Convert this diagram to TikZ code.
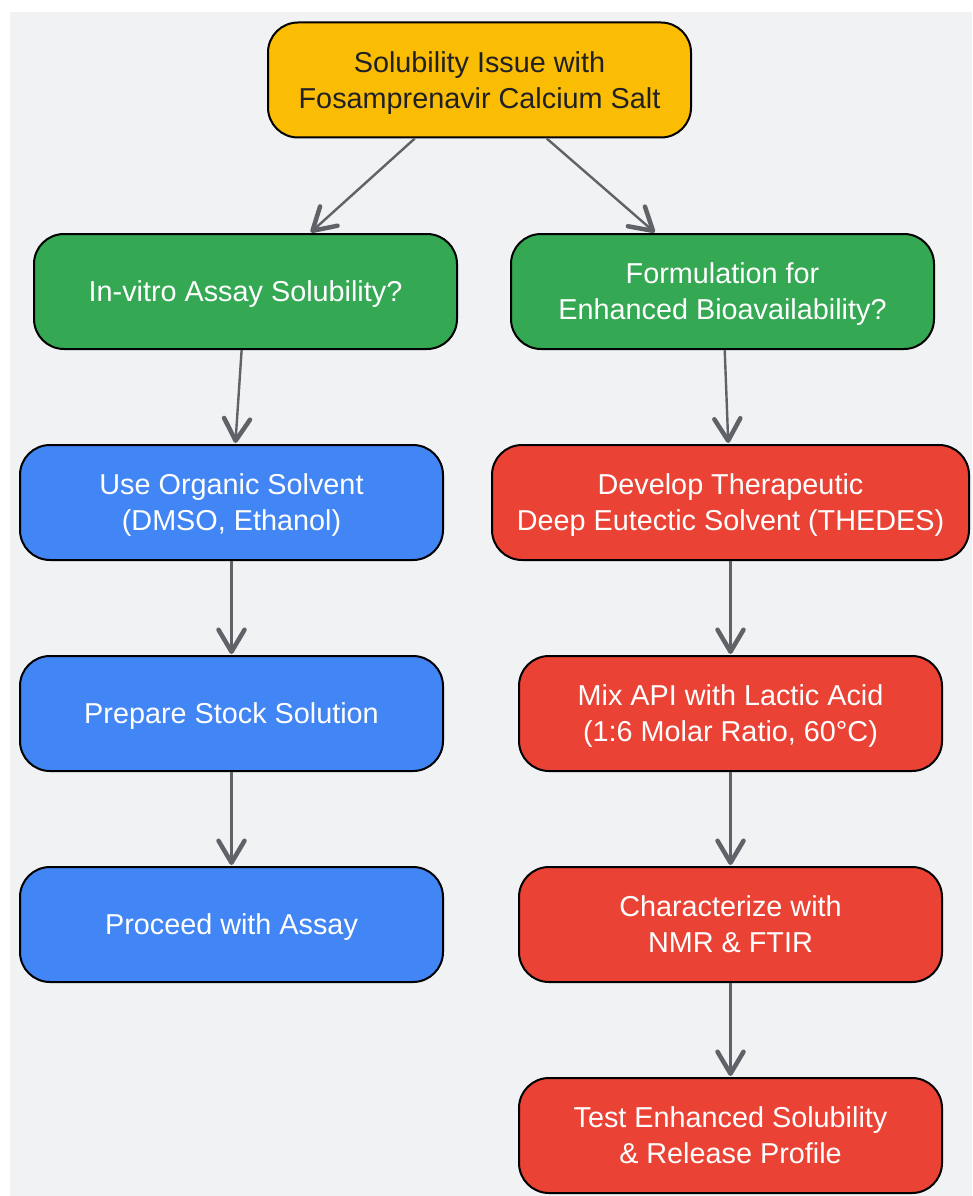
\documentclass[tikz,border=0pt]{standalone}
\usepackage{fontspec}
\setmainfont{Liberation Sans}
\usetikzlibrary{arrows.meta}
\definecolor{bgcol}{HTML}{F1F2F4}
\definecolor{yelcol}{HTML}{FBBC04}
\definecolor{grncol}{HTML}{34A853}
\definecolor{blucol}{HTML}{4285F4}
\definecolor{redcol}{HTML}{EA4335}
\definecolor{arrcol}{HTML}{5F6368}
\definecolor{txtcol}{HTML}{202124}
\tikzset{
  stepbox/.style={draw=black, line width=2pt, rounded corners=30pt,
    minimum width=423pt, minimum height=115pt, align=center,
    text=white, font=\fontsize{28.8}{36}\selectfont, text depth=0pt},
  flow/.style={draw=arrcol, line width=2.4pt,
    -{Straight Barb[length=22pt,width=26pt,line width=4.5pt,round]}, shorten >=1pt}
}
\begin{document}
\begin{tikzpicture}[x=1pt,y=-1pt]
\useasboundingbox (0,0) rectangle (972,1196);
\fill [bgcol] (10,12) rectangle (972,1196);
%Nodes
\node [stepbox, fill=yelcol, text=txtcol] (issue) at (479.5,80) {Solubility Issue with\\Fosamprenavir Calcium Salt};
\node [stepbox, fill=grncol] (assay) at (245.5,291.5) {In-vitro Assay Solubility?};
\node [stepbox, fill=grncol] (formul) at (722.5,291.5) {Formulation for\\Enhanced Bioavailability?};
\node [stepbox, fill=blucol] (solvent) at (231.5,502.5) {Use Organic Solvent\\(DMSO, Ethanol)};
\node [stepbox, fill=blucol] (stock) at (231.5,713.5) {Prepare Stock Solution};
\node [stepbox, fill=blucol] (proceed) at (231.5,924.5) {Proceed with Assay};
\node [stepbox, fill=redcol, minimum width=477pt] (thedes) at (730.5,502.5) {Develop Therapeutic\\Deep Eutectic Solvent (THEDES)};
\node [stepbox, fill=redcol] (mix) at (730.5,713.5) {Mix API with Lactic Acid\\(1:6 Molar Ratio, 60°C)};
\node [stepbox, fill=redcol] (charac) at (730.5,924.5) {Characterize with\\NMR \& FTIR};
\node [stepbox, fill=redcol] (test) at (730.5,1135.5) {Test Enhanced Solubility\\\& Release Profile};
%Arrows
\draw [flow] (issue) -- (assay);
\draw [flow] (issue) -- (formul);
\draw [flow] (assay) -- (solvent);
\draw [flow] (solvent) -- (stock);
\draw [flow] (stock) -- (proceed);
\draw [flow] (formul) -- (thedes);
\draw [flow] (thedes) -- (mix);
\draw [flow] (mix) -- (charac);
\draw [flow] (charac) -- (test);
\end{tikzpicture}
\end{document}
